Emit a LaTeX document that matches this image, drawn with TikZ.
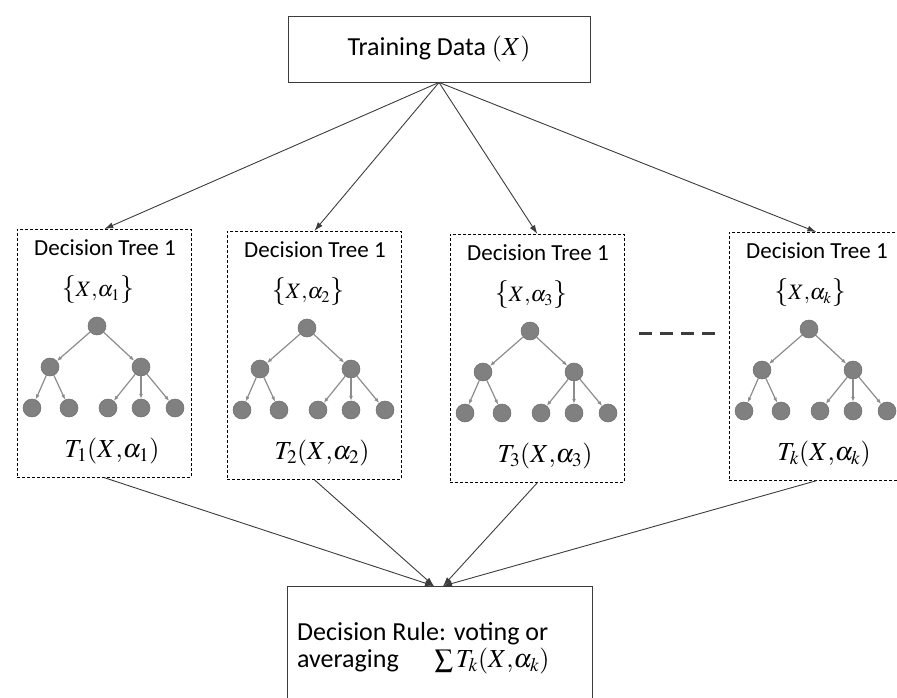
\documentclass[tikz,border=0pt]{standalone}
\usepackage{mathptmx}
\usepackage[no-math]{fontspec}
\setmainfont{Carlito}
\usetikzlibrary{calc,arrows.meta}
\definecolor{linkgray}{RGB}{60,60,60}
\definecolor{treegray}{RGB}{140,140,140}
\definecolor{leafgray}{RGB}{128,128,128}
% set with tall braces, no big delimiters
\newcommand\bracedset[1]{{\fontsize{28}{28}\selectfont$\{$}$#1${\fontsize{28}{28}\selectfont$\}$}}

\begin{document}
\begin{tikzpicture}[x=1pt,y=-1pt,
  box/.style={draw=linkgray,line width=0.9pt,inner sep=0pt},
  dbox/.style={draw=black,dash pattern=on 3pt off 2pt,line width=0.7pt,
               minimum width=174pt,minimum height=248pt,inner sep=0pt,anchor=north west},
  leaf/.style={circle,fill=leafgray,draw=leafgray!85!black,line width=0.5pt,
               minimum size=18pt,inner sep=0pt},
  branch/.style={draw=treegray,line width=1.2pt,-{Latex[length=5pt,width=4pt]}},
  link/.style={draw=linkgray,line width=0.9pt,-{Latex[length=9pt,width=6pt]}},
  ttl/.style={inner sep=0pt,font=\fontsize{23}{26}\selectfont},
  setlbl/.style={inner sep=0pt,font=\fontsize{22}{25}\selectfont},
  treelbl/.style={inner sep=0pt,font=\fontsize{26}{30}\selectfont}]

\clip (0,0) rectangle (897,698);

% training data on top
\node [box,minimum width=302pt,minimum height=66pt,font=\fontsize{26}{30}\selectfont]
      (train) at (439,49) {Training Data $(X)$};

% the decision trees
\foreach \i/\x/\y/\s in {1/17/229/1, 2/227/231/2, 3/450/234/3, 4/729/232/k}{
  \node [dbox] (t\i) at (\x,\y) {};
  \node [ttl] (h\i) at ({\x+88},{\y+19}) {Decision Tree 1};
  \node [setlbl] (p\i) at ({\x+81},{\y+61}) {\bracedset{X{,}\alpha_{\s}}};
  \node [leaf] (r\i) at ({\x+80},{\y+97}) {};
  \node [leaf] (a\i) at ({\x+33},{\y+138}) {};
  \node [leaf] (b\i) at ({\x+124},{\y+138}) {};
  \foreach \j/\lx in {1/15,2/52,3/91,4/124,5/158}
    \node [leaf] (l\i\j) at ({\x+\lx},{\y+179}) {};
  \draw [branch] (r\i) -- (a\i);
  \draw [branch] (r\i) -- (b\i);
  \draw [branch] (a\i) -- (l\i1);
  \draw [branch] (a\i) -- (l\i2);
  \draw [branch] (b\i) -- (l\i3);
  \draw [branch] (b\i) -- (l\i4);
  \draw [branch] (b\i) -- (l\i5);
  \node [treelbl] (f\i) at ({\x+95},{\y+222}) {$T_{\s}(X{,}\alpha_{\s})$};
  \draw [link] (train.south) -- (t\i.north);
}

% dots between tree 3 and tree k
\coordinate (d1) at (639,333);
\coordinate (d2) at (715,333);
\draw [linkgray,line width=3pt,dash pattern=on 13pt off 8pt] (d1) -- (d2);

% decision rule at the bottom
\node [box,minimum width=305pt,minimum height=130pt,anchor=north west] (rule) at (287,586) {};
\node [anchor=north west,inner sep=0pt,align=left,font=\fontsize{26}{27}\selectfont]
      (ruletxt) at (297,622) {Decision Rule: voting or\\
      averaging\hspace{36pt}$\textstyle\sum T_k(X{,}\alpha_k)$};

\coordinate (m1) at (434,586);
\coordinate (m2) at (443,586);
\draw [link] (t1.south) -- (m1);
\draw [link] (t2.south) -- (m1);
\draw [link] (t3.south) -- (m2);
\draw [link] (t4.south) -- (m2);
\end{tikzpicture}
\end{document}
